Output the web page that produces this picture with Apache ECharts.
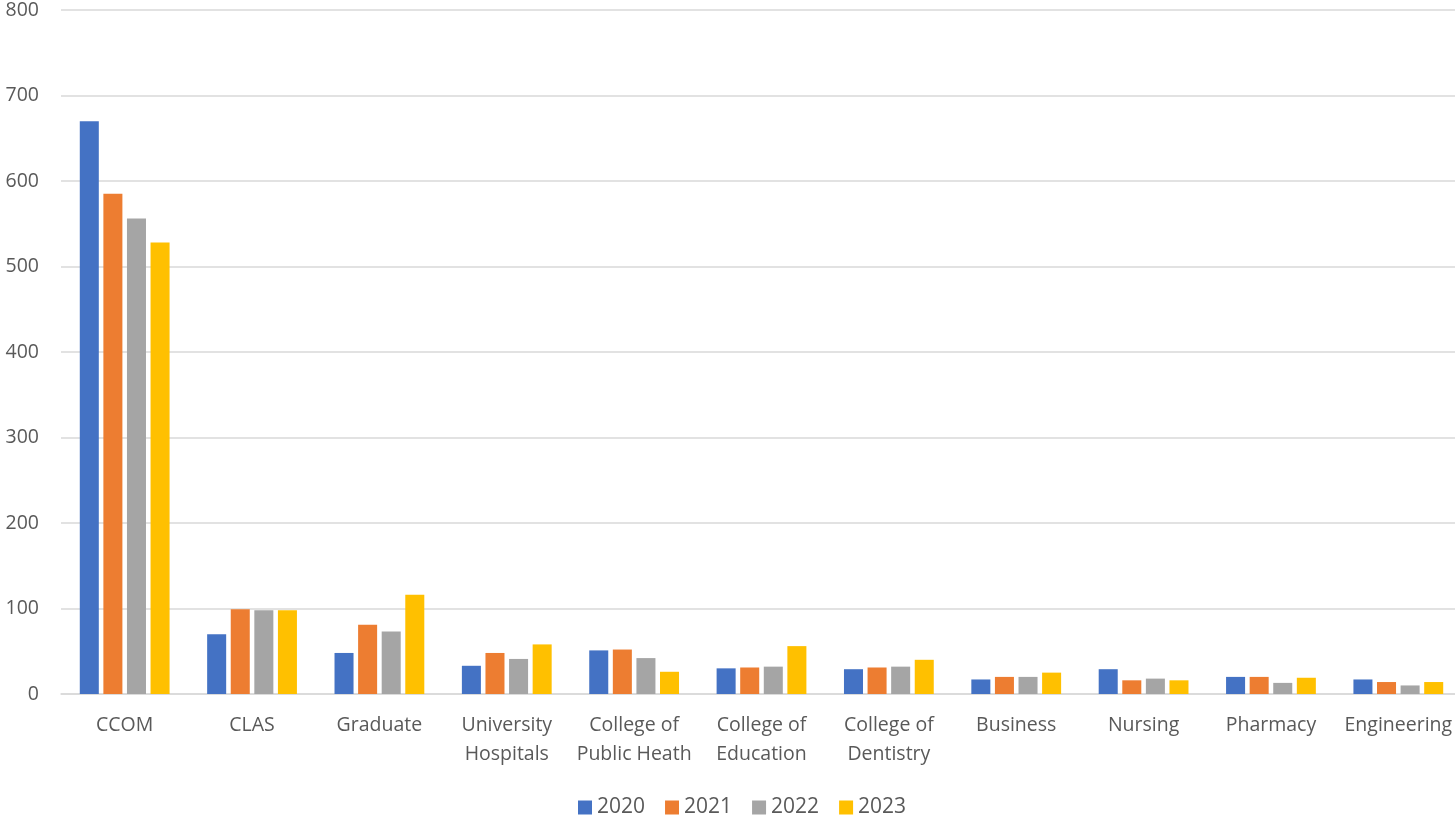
<!DOCTYPE html>
<html><head><meta charset="utf-8">
<script src="https://cdn.jsdelivr.net/npm/echarts@6/dist/echarts.min.js"></script>
<style>html,body{margin:0;padding:0;background:#fff;overflow:hidden}#c{width:1475px;height:819px}</style>
</head><body><div id="c"></div>
<script>
const categories = ['CCOM','CLAS','Graduate','University\nHospitals','College of\nPublic Heath','College of\nEducation','College of\nDentistry','Business','Nursing','Pharmacy','Engineering'];
const years = ['2020','2021','2022','2023'];
const v2020 = [670, 70, 48, 33, 51, 30, 29, 17, 29, 20, 17];
const v2021 = [585, 99, 81, 48, 52, 31, 31, 20, 16, 20, 14];
const v2022 = [556, 98, 73, 41, 42, 32, 32, 20, 18, 13, 10];
const v2023 = [528, 98, 116, 58, 26, 56, 40, 25, 16, 19, 14];
const colors = ['#4472C4','#ED7D31','#A5A5A5','#FFC000'];
const yTicks = [0,100,200,300,400,500,600,700,800];

const font = 'Open Sans';
const chart = echarts.init(document.getElementById('c'));
const allVals = [v2020, v2021, v2022, v2023];
chart.setOption({
  animation: false,
  textStyle: {fontFamily: font},
  grid: {left: 61, width: 1401, top: 9, bottom: 125, containLabel: false},
  legend: {
    data: years, top: 797, left: 578, itemWidth: 14, itemHeight: 14, itemGap: 20,
    icon: 'rect', padding: 0,
    textStyle: {fontSize: 21, color: '#595959', fontFamily: font}
  },
  xAxis: {
    type: 'category', data: categories,
    axisTick: {show: false},
    axisLine: {lineStyle: {color: '#d9d9d9', width: 1.5}},
    axisLabel: {fontSize: 19.5, color: '#595959', lineHeight: 29, margin: 17, interval: 0, fontFamily: font}
  },
  yAxis: {
    type: 'value', min: yTicks[0], max: yTicks[yTicks.length-1], interval: 100,
    axisLine: {show: false}, axisTick: {show: false},
    splitLine: {lineStyle: {color: '#d9d9d9', width: 1.5}},
    axisLabel: {fontSize: 19.5, color: '#595959', margin: 22, fontFamily: font}
  },
  series: years.map((y, i) => ({
    name: y, type: 'bar', data: allVals[i],
    itemStyle: {color: colors[i]},
    barGap: '24%', barCategoryGap: '29.5%'
  }))
});
</script></body></html>
